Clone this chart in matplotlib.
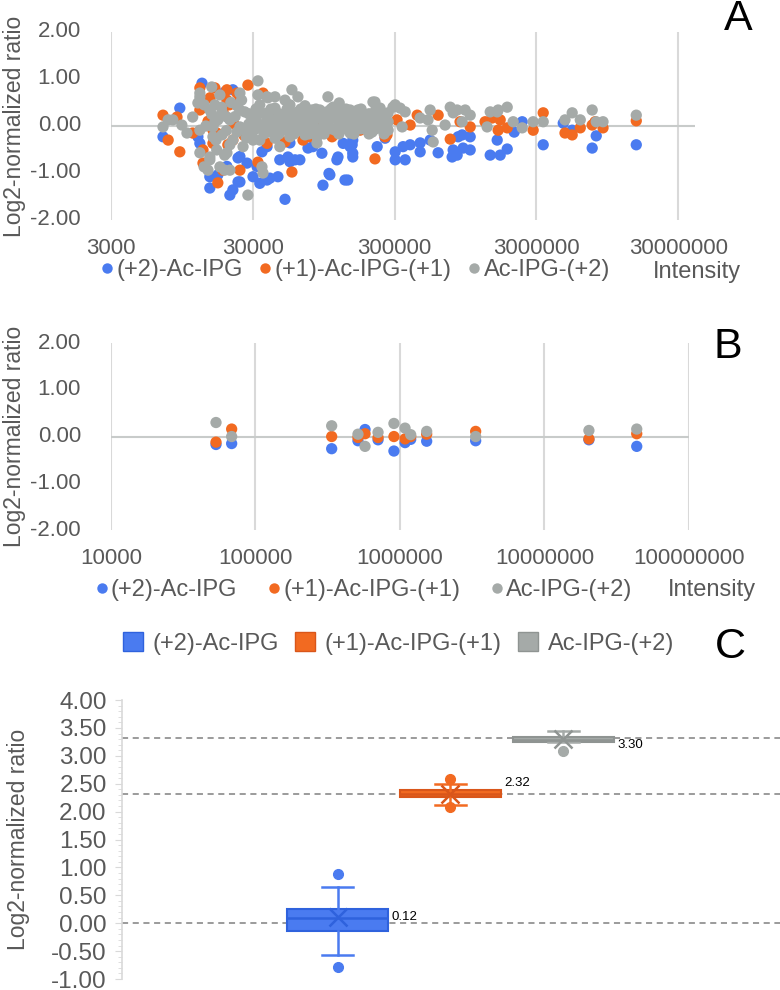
import matplotlib
matplotlib.use("Agg")
import matplotlib.pyplot as plt
from matplotlib.lines import Line2D
from matplotlib.patches import Patch
from matplotlib.ticker import FixedLocator, MultipleLocator, FormatStrFormatter

plt.rcParams['font.family'] = ['Liberation Sans', 'DejaVu Sans']

series_names = ["(+2)-Ac-IPG", "(+1)-Ac-IPG-(+1)", "Ac-IPG-(+2)"]
colors = ["#4a7bf0", "#f26a21", "#a5aaa8"]
edges = ["#2f62dd", "#d9561a", "#8f9492"]
text_color = "#595959"

# ---- panel A data (intensity, log2 ratio) ----
a_blue_int = [6980, 9170, 13150, 14930, 20670, 21700, 23600, 14930, 17000, 50600,
              33600, 37800, 30100, 45100, 93700, 103300, 140000, 32100, 46500, 54800,
              64400, 92100, 117500, 152000, 145600, 225900, 302700, 24330, 27300, 12700,
              19700, 79600, 130000, 37800, 54800, 34800, 59500, 53100, 39600, 104800,
              134000, 73500, 119600, 150500, 152000, 152000, 257000, 302700, 356000, 344000,
              386000, 454000, 454000, 534000, 608000, 763000, 776000, 841000, 898000, 1023000,
              1023000, 912000, 828000, 1416000, 1665000, 1866000, 1586000, 2090000, 2380000, 3348000,
              4635000, 5360000, 7920000, 7416000, 15170000, 12300, 23600, 24330, 21700, 19000]
a_blue_ratio = [-0.23, 0.38, 0.91, -1.32, -1.47, -1.36, -1.19, -1.08, -1.04, -1.56,
                -1.22, -1.15, -1.08, -1.08, -1.26, -1.01, -1.15, -0.86, -0.72, -0.76,
                -0.72, -0.58, -0.72, -0.58, -0.44, -0.44, -0.72, -0.65, -0.79, -0.37,
                -0.86, -0.44, -0.37, -0.44, -0.36, -0.55, -0.72, -0.66, -1.11, -1.04,
                -1.15, -0.47, -0.66, -0.40, -0.30, -0.66, -0.26, -0.55, -0.72, -0.44,
                -0.40, -0.36, -0.55, -0.30, -0.57, -0.66, -0.51, -0.23, -0.19, -0.23,
                -0.51, -0.47, -0.62, -0.62, -0.62, -0.49, -0.30, -0.13, 0.09, -0.40,
                0.06, -0.09, -0.21, -0.47, -0.40, -0.23, -0.68, -1.19, 0.77, 0.72]

a_orange_int = [6980, 7590, 9170, 8760, 12700, 13150, 16200, 19700, 19700, 27700,
                24330, 15700, 17000, 13360, 24330, 56600, 37800, 35400, 75800, 218000,
                265000, 171000, 110500, 85000, 41600, 21700, 15700, 13360, 11300, 32600,
                50600, 67700, 108600, 140000, 43000, 257000, 312000, 433000, 608000, 740000,
                386000, 868000, 1023000, 1303000, 1461000, 1665000, 1611000, 1866000, 2844000, 3348000,
                4770000, 5360000, 6110000, 7416000, 7770000, 8840000, 15170000, 12700, 16700, 23200,
                18400, 14500, 16000, 18500, 20000, 22000, 26000, 15000, 20500]
a_orange_ratio = [0.23, -0.30, -0.55, 0.19, 0.81, 0.38, 0.81, 0.77, 0.55, 0.87,
                  0.55, -0.09, -1.21, -0.79, -0.94, -0.98, -0.37, 0.70, -0.23, -0.70,
                  -0.19, -0.09, -0.09, -0.04, 0.13, -0.30, -0.37, -0.51, -0.15, -0.77,
                  -0.34, -0.30, -0.23, -0.04, -0.15, -0.23, 0.13, 0.23, 0.23, -0.28,
                  0.02, 0.09, -0.02, 0.09, 0.17, 0.13, -0.09, -0.04, -0.09, 0.28,
                  -0.15, -0.19, -0.04, 0.02, 0.09, -0.04, 0.11, 0.34, -0.15, 0.70,
                  -0.94, 0.10, -0.25, 0.30, -0.40, 0.05, -0.20, 0.60, 0.45]

a_grey_int = [6980, 8190, 9480, 10300, 7590, 12700, 15400, 17580, 14930, 12700,
              14930, 14480, 17580, 19700, 20670, 27700, 32600, 34800, 35400, 37800,
              43000, 50600, 56600, 62400, 46500, 30100, 21700, 24330, 30100, 37800,
              44300, 52300, 64400, 79600, 89100, 101600, 110500, 123500, 138300, 152000,
              180000, 211000, 248000, 292000, 85000, 64400, 49000, 15700, 19700, 24330,
              12700, 15700, 11300, 145600, 163000, 218000, 225900, 248000, 270000, 302700,
              328000, 356000, 339000, 454000, 534000, 516000, 552000, 561000, 681000, 740000,
              776000, 828000, 943000, 1023000, 898000, 1347000, 1416000, 1611000, 1866000, 2055000,
              2380000, 2844000, 3348000, 4770000, 5360000, 6110000, 7416000, 7920000, 8840000, 15170000,
              1586000,
              26300, 26300, 29600, 29600, 33600, 33600, 33600, 38300, 38300, 43000,
              43000, 43000, 49000, 49000, 54800, 54800, 54800, 62400, 62400, 70000,
              70000, 70000, 78400, 78400, 89100, 89100, 100000, 100000, 114000, 114000,
              127600, 127600, 145600, 145600, 165300, 165300, 185700, 185700, 208000, 208000,
              237000, 237000, 270000, 270000, 16200, 16200, 18200, 18200, 20670, 20670,
              23200, 23200, 32600, 38300, 122000, 85000,
              12700, 12300, 13600, 14930, 16700, 19000, 19000, 25600, 17000, 24330,
              28100, 28100, 28100, 31600, 31600, 31600, 36000, 36000, 36000, 40300,
              40300, 40300, 45900, 45900, 45900, 52300, 52300, 52300, 58500, 58500,
              58500, 65400, 65400, 65400, 74600, 74600, 74600, 83500, 83500, 83500,
              95300, 95300, 95300, 106700, 106700, 106700, 121400, 121400, 121400, 136100,
              136100, 136100, 155000, 155000, 155000, 174000, 174000, 174000, 198000, 198000,
              198000, 221500, 221500, 221500, 253000, 253000, 253000,
              13600, 14000, 15400, 16500, 18000, 19500, 21000, 22500, 25000, 27000]
a_grey_ratio = [-0.02, 0.13, 0.02, -0.15, 0.13, 0.62, 0.83, 0.66, 0.34, -0.57,
                -0.66, -0.94, -0.87, -0.57, -0.94, -1.47, 0.96, -0.87, -1.00, 0.62,
                0.62, 0.55, 0.77, 0.62, -0.44, -0.30, -0.30, -0.02, 0.13, 0.06,
                -0.15, 0.13, 0.19, 0.19, 0.34, 0.62, 0.40, 0.28, 0.34, 0.19,
                0.13, 0.51, 0.19, 0.40, -0.23, -0.09, -0.02, -0.02, 0.19, 0.34,
                -0.09, -0.23, 0.19, 0.34, 0.23, 0.51, 0.13, 0.23, 0.09, 0.45,
                0.38, 0.30, -0.02, 0.17, 0.34, 0.13, -0.09, -0.34, 0.02, 0.40,
                0.28, 0.34, 0.34, 0.23, 0.09, -0.02, 0.30, 0.34, 0.40, 0.09,
                -0.04, 0.09, 0.09, 0.13, 0.28, 0.13, 0.34, 0.09, 0.09, 0.23,
                0.30,
                0.30, -0.09, 0.17, -0.19, 0.45, 0.02, -0.30, 0.28, -0.13, 0.38,
                0.09, -0.26, 0.23, -0.09, 0.45, 0.09, -0.23, 0.30, -0.04, 0.43,
                0.13, -0.19, 0.34, -0.02, 0.17, -0.15, 0.30, 0.02, 0.17, -0.09,
                0.34, 0.02, 0.13, -0.15, 0.34, 0.00, 0.23, -0.06, 0.13, -0.13,
                0.38, 0.02, 0.28, -0.09, 0.45, 0.09, 0.30, -0.19, 0.13, -0.40,
                0.43, -0.13, 0.66, 0.60, 0.49, -0.36,
                0.70, 0.49, -0.87, -0.72, -0.51, -0.62, -0.94, -0.44, 0.13, 0.70,
                0.26, 0.04, -0.17, 0.36, 0.15, -0.06, 0.26, 0.04, -0.17, 0.36,
                0.15, -0.06, 0.26, 0.04, -0.17, 0.36, 0.15, -0.06, 0.26, 0.04,
                -0.17, 0.36, 0.15, -0.06, 0.26, 0.04, -0.17, 0.36, 0.15, -0.06,
                0.26, 0.04, -0.17, 0.36, 0.15, -0.06, 0.26, 0.04, -0.17, 0.36,
                0.15, -0.06, 0.26, 0.04, -0.17, 0.36, 0.15, -0.06, 0.26, 0.04,
                -0.17, 0.36, 0.15, -0.06, 0.26, 0.04, -0.17,
                0.45, 0.00, 0.25, -0.30, 0.40, -0.10, 0.50, 0.20, 0.55, -0.25]

a_xticks = [3000, 30000, 300000, 3000000, 30000000]
y_ticks = [-2, -1, 0, 1, 2]
y_ticklabels = ["-2.00", "-1.00", "0.00", "1.00", "2.00"]

# ---- panel B data ----
b_int = [53300, 68400, 336700, 512000, 573000, 705000, 908000, 1084000, 1186000,
         1530000, 3340000, 20300000, 43500000]
b_blue = [-0.17, -0.15, -0.26, -0.09, 0.15, -0.07, -0.31, -0.13, -0.06, -0.10, -0.09, -0.07, -0.21]
b_orange = [-0.12, 0.16, 0.00, -0.02, 0.06, -0.02, 0.00, -0.05, 0.00, 0.05, 0.11, -0.05, 0.06]
b_grey = [0.30, 0.00, 0.23, 0.05, -0.21, 0.09, 0.28, 0.18, 0.04, 0.11, 0.00, 0.13, 0.16]
b_xticks = [10000, 100000, 1000000, 10000000, 100000000]

# ---- panel C data (box statistics) ----
c_q1 = [-0.14, 2.27, 3.24]
c_med = [0.10, 2.32, 3.29]
c_q3 = [0.25, 2.39, 3.34]
c_whislo = [-0.575, 2.11, 3.24]
c_whishi = [0.654, 2.50, 3.45]
c_mean = [0.12, 2.32, 3.30]
c_fliers = [[0.887, -0.79], [2.58, 2.077], [3.09]]
c_mean_labels = ["0.12", "2.32", "3.30"]
c_label_y = [0.12, 2.51, 3.19]
c_ref_lines = [0.0, 2.32, 3.32]

fig = plt.figure(figsize=(7.8, 9.9), dpi=100)


def scatter_panel(rect, xs, ys_list, xlim, xticks):
    ax = fig.add_axes(rect)
    for xv, yv, c in zip(xs, ys_list, colors):
        ax.scatter(xv, yv, s=66, color=c, edgecolors='none', zorder=3)
    ax.set_xscale('log')
    ax.set_xlim(*xlim)
    ax.set_ylim(-2, 2)
    ax.xaxis.set_major_locator(FixedLocator(xticks))
    ax.xaxis.set_minor_locator(FixedLocator([]))
    ax.set_yticks(y_ticks)
    for t in xticks:
        ax.axvline(t, color="#d9d9d9", lw=1.5, zorder=1)
    ax.axhline(0, color="#c8cbca", lw=1.5, zorder=2)
    for s in ax.spines.values():
        s.set_visible(False)
    ax.tick_params(length=0, labelleft=False, labelbottom=False)
    # tick labels placed at the reference's distance from the plot area
    w_px = rect[2] * 780
    h_px = rect[3] * 990
    for v, lab in zip(y_ticks, y_ticklabels):
        ax.text(-30 / w_px, v, lab, transform=ax.get_yaxis_transform(), ha='right',
                va='center', fontsize=16, color=text_color)
    for t in xticks:
        ax.text(t, -28.5 / h_px, str(t), transform=ax.get_xaxis_transform(), ha='center',
                va='center', fontsize=16, color=text_color)
    ax.set_ylabel("Log2-normalized ratio", fontsize=16.5, color=text_color)
    ax.yaxis.set_label_coords(-85 / w_px, 0.5)
    return ax


axA = scatter_panel([0.1423, 0.7778, 0.749, 0.1899],
                    [a_blue_int, a_orange_int, a_grey_int],
                    [a_blue_ratio, a_orange_ratio, a_grey_ratio],
                    (3000, 3.95e7), a_xticks)
axB = scatter_panel([0.1423, 0.4646, 0.741, 0.1889],
                    [b_int, b_int, b_int], [b_blue, b_orange, b_grey],
                    (1e4, 1e8), b_xticks)

dot_handles = [Line2D([], [], ls='none', marker='o', ms=7.5, color=c, mec='none') for c in colors]
fig.legend(dot_handles, series_names, loc='center left', bbox_to_anchor=(0.116, 0.727),
           ncol=3, frameon=False, fontsize=17, handlelength=0.4, handletextpad=0.2,
           columnspacing=0.75, borderpad=0, labelcolor=text_color)
fig.text(0.894, 0.725, "Intensity", fontsize=17, color=text_color, ha='center', va='center')
fig.legend(dot_handles, series_names, loc='center left', bbox_to_anchor=(0.109, 0.404),
           ncol=3, frameon=False, fontsize=17, handlelength=0.4, handletextpad=0.2,
           columnspacing=1.35, borderpad=0, labelcolor=text_color)
fig.text(0.913, 0.404, "Intensity", fontsize=17, color=text_color, ha='center', va='center')

fig.text(0.946, 0.981, "A", fontsize=31, ha='center', va='center')
fig.text(0.933, 0.650, "B", fontsize=31, ha='center', va='center')
fig.text(0.936, 0.346, "C", fontsize=31, ha='center', va='center')

# ---- panel C ----
axC = fig.add_axes([0.1564, 0.0111, 0.8436, 0.2818])
for i, c in enumerate(colors):
    st = dict(q1=c_q1[i], med=c_med[i], q3=c_q3[i], whislo=c_whislo[i],
              whishi=c_whishi[i], mean=c_mean[i], fliers=c_fliers[i])
    axC.bxp([st], positions=[i], widths=0.9, patch_artist=True, showmeans=True,
            boxprops=dict(facecolor=c, edgecolor=edges[i], lw=1.5),
            medianprops=dict(color=edges[i], lw=1.8),
            whiskerprops=dict(color=c, lw=1.8),
            capprops=dict(color=c, lw=1.8), capwidths=0.27,
            meanprops=dict(marker='x', markeredgecolor=edges[i], markersize=13, mew=1.8),
            flierprops=dict(marker='o', markerfacecolor=c, markeredgecolor=c, markersize=7),
            zorder=3)
    axC.text(i + 0.48, c_label_y[i], c_mean_labels[i], fontsize=9.5, va='center', ha='left',
             color='black', zorder=4)
for y in c_ref_lines:
    axC.axhline(y, color="#808080", lw=1.1, ls=(0, (4, 3)), zorder=2)
axC.set_xlim(-1.91, 3.92)
axC.set_ylim(-1, 4)
axC.set_xticks([])
axC.yaxis.set_major_locator(MultipleLocator(0.5))
axC.yaxis.set_minor_locator(MultipleLocator(0.1))
axC.yaxis.set_major_formatter(FormatStrFormatter('%.2f'))
for k in ['top', 'right', 'bottom']:
    axC.spines[k].set_visible(False)
axC.spines['left'].set_color("#d9d9d9")
axC.spines['left'].set_linewidth(1.2)
axC.tick_params(axis='y', which='major', length=5, color="#d9d9d9", labelsize=17.5,
                labelcolor=text_color, pad=6)
axC.tick_params(axis='y', which='minor', length=3, color="#d9d9d9")
axC.set_ylabel("Log2-normalized ratio", fontsize=16.5, color=text_color)
axC.yaxis.set_label_coords(-92 / 658, 0.5)

sq_handles = [Patch(facecolor=c, edgecolor=e, lw=1) for c, e in zip(colors, edges)]
fig.legend(sq_handles, series_names, loc='center left', bbox_to_anchor=(0.142, 0.350),
           ncol=3, frameon=False, fontsize=17, handlelength=0.85, handleheight=0.85,
           handletextpad=0.4, columnspacing=0.7, borderpad=0, labelcolor=text_color)

fig.savefig("out.png", dpi=100)
